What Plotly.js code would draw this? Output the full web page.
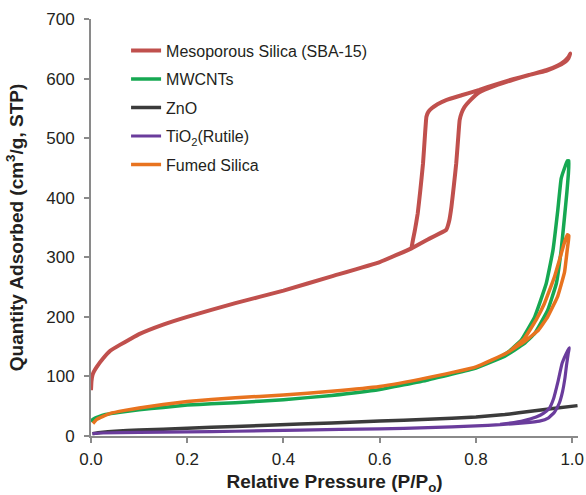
<!DOCTYPE html>
<html>
<head>
<meta charset="utf-8">
<script src="https://cdn.plot.ly/plotly-3.0.1.min.js"></script>
<style>
html,body{margin:0;padding:0;background:#fff;}
#chart{width:586px;height:495px;}
</style>
</head>
<body>
<div id="chart"></div>
<script>
// ---- Data ----
// Mesoporous Silica (SBA-15): adsorption branch then desorption branch
var sbaX = [0.0, 0.001, 0.003, 0.006, 0.012, 0.025, 0.04, 0.06, 0.08, 0.1, 0.15, 0.2, 0.3, 0.4, 0.5, 0.6, 0.666, 0.7, 0.738, 0.744, 0.749, 0.754, 0.759, 0.763, 0.766, 0.770, 0.776, 0.79, 0.807, 0.84, 0.877, 0.91, 0.946, 0.97, 0.985, 0.992, 0.996,
            0.992, 0.985, 0.97, 0.946, 0.91, 0.877, 0.84, 0.807, 0.77, 0.738, 0.72, 0.708, 0.701, 0.697, 0.694, 0.69, 0.684, 0.679, 0.673, 0.669, 0.666];
var sbaY = [77, 92, 102, 108, 116, 130, 143, 153, 162, 171, 187, 200, 223, 244, 268, 292, 315, 330, 346, 360, 385, 420, 458, 500, 530, 542, 552, 565, 577, 588, 598, 606, 614, 622, 630, 636, 642,
            634, 628, 621, 613, 606, 599, 590, 581, 572, 564, 557, 550, 544, 536, 505, 458, 410, 374, 345, 329, 316];

// MWCNTs
var mwX = [0.0, 0.004, 0.015, 0.03, 0.06, 0.1, 0.15, 0.2, 0.25, 0.3, 0.4, 0.5, 0.6, 0.7, 0.8, 0.86, 0.9, 0.922, 0.949, 0.967, 0.977, 0.984, 0.989, 0.992, 0.993,
           0.99, 0.985, 0.977, 0.970, 0.960, 0.946, 0.922, 0.894, 0.87, 0.85];
var mwY = [24, 28, 32, 36, 40, 44, 48, 52, 54, 56, 61, 68, 78, 94, 114, 134, 155, 172, 211, 256, 312, 368, 410, 440, 462,
           462, 452, 432, 379, 312, 256, 200, 161, 143, 132];

// ZnO
var znoX = [0.003, 0.02, 0.05, 0.1, 0.2, 0.3, 0.434, 0.5, 0.6, 0.7, 0.8, 0.86, 0.918, 0.96, 1.011];
var znoY = [4, 6, 8, 10, 13, 16, 20, 22, 25, 28, 32, 36, 42, 46, 51];

// TiO2 (Rutile)
var tioX = [0.003, 0.02, 0.1, 0.2, 0.3, 0.434, 0.6, 0.7, 0.8, 0.85, 0.9, 0.932, 0.95, 0.963, 0.973, 0.98, 0.985, 0.988, 0.992, 0.994,
            0.991, 0.979, 0.970, 0.961, 0.952, 0.94, 0.925, 0.9, 0.87, 0.85];
var tioY = [4, 5, 6, 7, 8, 10, 12, 14, 17, 19, 22, 25, 30, 40, 55, 75, 98, 118, 140, 148,
            144, 122, 90, 62, 46, 38, 32, 26, 21.5, 19.5];

// Fumed Silica
var fsX = [0.004, 0.012, 0.025, 0.04, 0.07, 0.1, 0.15, 0.2, 0.3, 0.4, 0.5, 0.6, 0.7, 0.8, 0.863, 0.9, 0.93, 0.949, 0.970, 0.984, 0.99, 0.993,
           0.99, 0.985, 0.975, 0.963, 0.942, 0.925, 0.9, 0.875];
var fsY = [21, 28, 33, 38, 43, 47, 53, 58, 64, 69, 75, 83, 98, 116, 139, 158, 178, 200, 235, 275, 315, 336,
           338, 328, 300, 267, 222, 195, 163, 146];

var xTickVals = [0, 0.2, 0.4, 0.6, 0.8, 1.0];
var xTickText = ['0.0', '0.2', '0.4', '0.6', '0.8', '1.0'];
var yTickVals = [0, 100, 200, 300, 400, 500, 600, 700];

var names = ['Mesoporous Silica (SBA-15)', 'MWCNTs', 'ZnO', 'TiO<sub>2</sub>(Rutile)', 'Fumed Silica'];
var colors = ['#c0504d', '#16a852', '#3b3b3b', '#6a3c9c', '#e8731f'];

function tr(x, y, i, w) {
  return {x: x, y: y, type: 'scatter', mode: 'lines', name: names[i],
          legendrank: i + 1, legendgroup: 'g' + i,
          line: {color: colors[i], width: w, shape: 'spline', smoothing: 0.3},
          hoverinfo: 'skip'};
}

var data = [
  tr(znoX, znoY, 2, 3.5),
  tr(tioX, tioY, 3, 3.2),
  tr(mwX, mwY, 1, 3.5),
  tr(fsX, fsY, 4, 3.5),
  tr(sbaX, sbaY, 0, 4)
];

var axisColor = '#8a8a8a';
var tickFont = {family: 'Liberation Sans, Arial, sans-serif', size: 17, color: '#231f20'};
var titleFont = {family: 'Liberation Sans, Arial, sans-serif', size: 19, color: '#231f20'};

var layout = {
  width: 586, height: 495,
  margin: {l: 91, r: 8, t: 19, b: 59},
  paper_bgcolor: '#ffffff', plot_bgcolor: '#ffffff',
  showlegend: true,
  legend: {x: 0.072, y: 0.965, xanchor: 'left', yanchor: 'top', bgcolor: 'rgba(0,0,0,0)',
           font: {family: 'Liberation Sans, Arial, sans-serif', size: 16, color: '#231f20'},
           tracegroupgap: 4.7, traceorder: 'grouped'},
  xaxis: {range: [0, 1.012], tickvals: xTickVals, ticktext: xTickText,
          showline: true, linecolor: axisColor, linewidth: 2,
          ticks: 'outside', ticklen: 5, tickwidth: 2, tickcolor: axisColor,
          showgrid: false, zeroline: false, tickfont: tickFont, ticklabelstandoff: 2,
          title: {text: '<b>Relative Pressure (P/P<sub>o</sub>)</b>', font: titleFont, standoff: 12}},
  yaxis: {range: [0, 700], tickvals: yTickVals,
          showline: true, linecolor: axisColor, linewidth: 2,
          ticks: 'outside', ticklen: 5, tickwidth: 2, tickcolor: axisColor,
          showgrid: false, zeroline: false, tickfont: tickFont, ticklabelstandoff: 6,
          title: {text: '<b>Quantity Adsorbed (cm<sup>3</sup>/g, STP)</b>', font: titleFont, standoff: 18}}
};

Plotly.newPlot('chart', data, layout, {staticPlot: true, displayModeBar: false});
</script>
</body>
</html>
